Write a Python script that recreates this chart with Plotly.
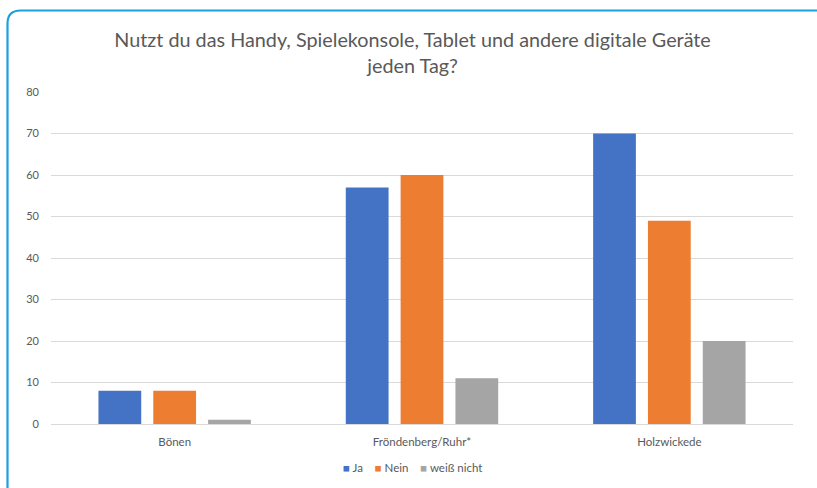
import plotly.graph_objects as go

categories = ["Bönen", "Fröndenberg/Ruhr*", "Holzwickede"]
ja = [8, 57, 70]
nein = [8, 60, 49]
weiss_nicht = [1, 11, 20]
series_names = ["Ja", "Nein", "weiß nicht"]
colors = ["#4472C4", "#ED7D31", "#A5A5A5"]
title_lines = ["Nutzt du das Handy, Spielekonsole, Tablet und andere digitale Geräte", "jeden Tag?"]
y_ticks = [0, 10, 20, 30, 40, 50, 60, 70, 80]

W, H = 817, 488
L, R, T, B = 51, 24, 92, 64
pw, ph = W - L - R, H - T - B

def px(x):
    return (x - L) / pw

def py(y):
    return (H - B - y) / ph

FONT = "Lato, Open Sans, sans-serif"
GREY = "#595959"

fig = go.Figure()
for name, vals, col in zip(series_names, [ja, nein, weiss_nicht], colors):
    fig.add_trace(go.Bar(x=categories, y=vals, name=name, showlegend=False,
                         marker=dict(color=col, line=dict(width=0))))

# compact legend as text
legend_text = "&nbsp;&nbsp;&nbsp;&nbsp;".join(
    f"<span style='color:{c}'>■</span> {n}" for n, c in zip(series_names, colors))

# rounded border frame
x0, y0, r = 7.5, 10.5, 13
path = (f"M {px(x0)},{py(500)} L {px(x0)},{py(y0 + r)} "
        f"Q {px(x0)},{py(y0)} {px(x0 + r)},{py(y0)} L {px(840)},{py(y0)}")

fig.update_layout(
    width=W, height=H,
    margin=dict(l=L, r=R, t=T, b=B, autoexpand=False),
    paper_bgcolor="white", plot_bgcolor="white",
    font=dict(family=FONT, color=GREY, size=11),
    title=dict(text="<br>".join(title_lines), x=0.505, xanchor="center", y=0.904, yanchor="top",
               font=dict(size=19.8, color=GREY, family=FONT)),
    barmode="group", bargap=0.335, bargroupgap=0.22,
    yaxis=dict(range=[0, 80], tickvals=y_ticks, showgrid=True, gridcolor="#D9D9D9", gridwidth=1,
               zeroline=False, showline=False, ticks="", ticklabelstandoff=11, automargin=False,
               tickfont=dict(size=11, color=GREY)),
    xaxis=dict(showline=True, linecolor="#D9D9D9", linewidth=1, ticks="", automargin=False,
               ticklabelstandoff=7, tickfont=dict(size=11.5, color=GREY)),
    annotations=[dict(text=legend_text, xref="paper", yref="paper", x=px(412), y=py(467),
                      xanchor="center", yanchor="middle", showarrow=False,
                      font=dict(size=11.5, color=GREY, family=FONT))],
    shapes=[dict(type="path", xref="paper", yref="paper", path=path,
                 line=dict(color="#1BA1E2", width=2.2), layer="above")],
)

fig.write_html("out.html", config={"displayModeBar": False},
               post_script="document.body.style.margin='0';")
